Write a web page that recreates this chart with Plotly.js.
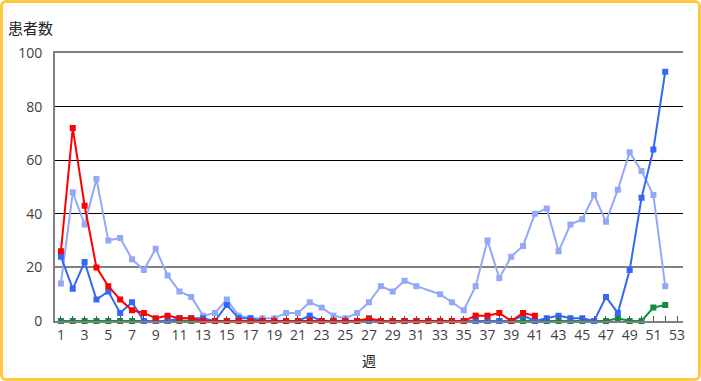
<!DOCTYPE html>
<html>
<head>
<meta charset="utf-8">
<script src="https://cdn.plot.ly/plotly-3.0.1.min.js"></script>
<style>
  html, body { margin: 0; padding: 0; background: #fff; }
  #frame { width: 701px; height: 381px; box-sizing: border-box; border: 3px solid #FFC83D; border-radius: 6px; overflow: hidden; }
  #chart { width: 695px; height: 375px; }
</style>
</head>
<body>
<div id="frame"><div id="chart"></div></div>
<script>
// Weeks 1..52 (axis runs to 53)
const weeks = [];
for (let w = 1; w <= 52; w++) weeks.push(w);

// Light blue series (week 32 missing)
const seriesLight = [14,48,36,53,30,31,23,19,27,17,11,9,2,3,8,2,1,1,1,3,3,7,5,2,1,3,7,13,11,15,13,null,10,7,4,13,30,16,24,28,40,42,26,36,38,47,37,49,63,56,47,13];
// Blue series
const seriesBlue = [24,12,22,8,11,3,7,0,0,0,1,1,1,0,6,1,1,0,0,0,0,2,0,0,0,0,0,0,0,0,0,0,0,0,0,0,0,0,0,2,0,1,2,1,1,0,9,3,19,46,64,93];
// Red series (weeks 1..41)
const seriesRed = [26,72,43,20,13,8,4,3,1,2,1,1,0,0,0,0,0,0,0,0,0,0,0,0,0,0,1,0,0,0,0,0,0,0,0,2,2,3,0,3,2,null,null,null,null,null,null,null,null,null,null,null];
// Green series
const seriesGreen = [0,0,0,0,0,0,0,0,0,0,0,0,0,0,0,0,0,0,0,0,0,0,0,0,0,0,0,0,0,0,0,0,0,0,0,0,0,0,0,0,0,0,0,0,0,0,0,1,0,0,5,6];

const yTickVals = [0,20,40,60,80,100];
const greyGridVals = [20];
const yTitle = '患者数';
const xTitle = '週';

const FONT = 'Open Sans, "Noto Sans CJK JP", sans-serif';

function tr(y, color, extra) {
  return Object.assign({
    x: weeks, y: y, type: 'scatter', mode: 'lines+markers',
    line: {color: color, width: 2},
    marker: {color: color, size: 6, symbol: 'square'},
    cliponaxis: false,
    hoverinfo: 'x+y', showlegend: false
  }, extra || {});
}

const data = [
  {x: [], y: [], yaxis: 'y2', type: 'scatter', showlegend: false, hoverinfo: 'skip'},
  tr(seriesLight, '#93A9F7', {connectgaps: true}),
  tr(seriesGreen, '#0E8F3E'),
  tr(seriesBlue, '#3468F5'),
  tr(seriesRed, '#FF0000')
];

const layout = {
  width: 695, height: 375,
  margin: {l: 52, r: 15, t: 50, b: 57},
  paper_bgcolor: '#fff', plot_bgcolor: '#fff',
  font: {family: FONT, size: 14, color: '#404040'},
  showlegend: false,
  xaxis: {
    range: [0.5, 53.5], tick0: 1, dtick: 2,
    ticks: 'inside', ticklen: 5, tickwidth: 1, tickcolor: '#555',
    minor: {dtick: 1, tick0: 1, ticks: 'inside', ticklen: 5, tickwidth: 1, tickcolor: '#555'},
    showgrid: false, zeroline: false,
    showline: true, mirror: true, linecolor: '#808080', linewidth: 2,
    tickfont: {family: FONT, size: 14, color: '#404040'},
    title: {text: xTitle, font: {family: FONT, size: 14, color: '#222'}, standoff: 13},
    fixedrange: true
  },
  yaxis: {
    range: [0, 100], tickvals: yTickVals,
    showgrid: true, gridcolor: '#000', gridwidth: 1,
    zeroline: false, showline: true, linecolor: '#808080', linewidth: 2,
    ticks: '', ticklabelstandoff: 8,
    tickfont: {family: FONT, size: 14, color: '#404040'},
    fixedrange: true
  },
  yaxis2: {
    range: [0, 100], tickvals: greyGridVals, overlaying: 'y',
    showgrid: true, gridcolor: '#808080', gridwidth: 2,
    showticklabels: false, zeroline: false, showline: false, ticks: '',
    fixedrange: true
  },
  annotations: [{
    text: yTitle, xref: 'paper', yref: 'paper', x: 0, y: 1,
    xanchor: 'right', yanchor: 'bottom', xshift: 0, yshift: 13,
    showarrow: false, font: {family: FONT, size: 15, color: '#222'}
  }]
};

Plotly.newPlot('chart', data, layout, {displayModeBar: false, staticPlot: true});
</script>
</body>
</html>
